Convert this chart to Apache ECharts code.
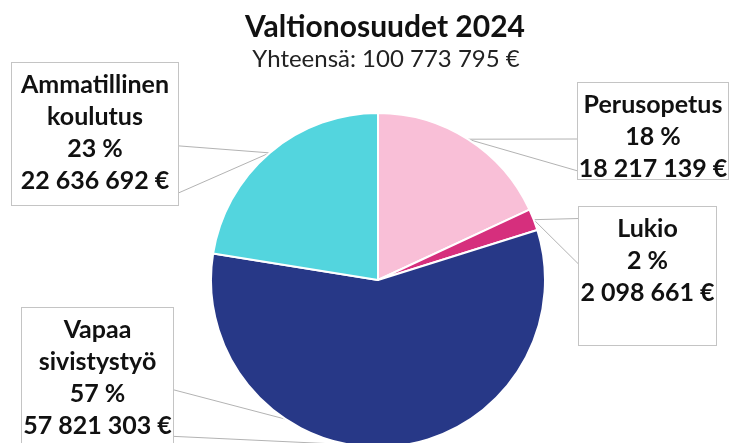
<!DOCTYPE html>
<html>
<head>
<meta charset="utf-8">
<script src="https://cdn.jsdelivr.net/npm/echarts@6/dist/echarts.min.js"></script>
<style>
  html, body { margin: 0; padding: 0; background: #fff; }
  #chart { width: 729px; height: 443px; }
</style>
</head>
<body>
<div id="chart"></div>
<script>
// data
const categories = ["Perusopetus", "Lukio", "Vapaa sivistystyö", "Ammatillinen koulutus"];
const values = [18217139, 2098661, 57821303, 22636692];
const colors = ["#F9BFD7", "#D62F7D", "#273887", "#53D5DE"];

// callout boxes (left, top, width, height)
const boxes = [
  { left: 578, top: 83, w: 150, h: 96 },
  { left: 579, top: 207, w: 137, h: 138 },
  { left: 22, top: 308, w: 151, h: 140 },
  { left: 12, top: 63, w: 166, h: 142 },
];

const total = values.reduce((a, b) => a + b, 0);

function fmt(v) {
  return String(v).replace(/\B(?=(\d{3})+(?!\d))/g, " ") + " €";
}

// wedge callout like in excel: base on the side facing the tip
function wedge(b, tip) {
  const cx = b.left + b.w / 2;
  const cy = b.top + b.h / 2;
  const dx = tip[0] - cx;
  const dy = tip[1] - cy;
  if (Math.abs(dx) / b.w > Math.abs(dy) / b.h) {
    const x = dx > 0 ? b.left + b.w : b.left;
    const f = dy > 0 ? [7 / 12, 11 / 12] : [1 / 12, 5 / 12];
    return [[x, b.top + b.h * f[0]], tip, [x, b.top + b.h * f[1]]];
  }
  const y = dy > 0 ? b.top + b.h : b.top;
  const f = dx > 0 ? [7 / 12, 11 / 12] : [1 / 12, 5 / 12];
  return [[b.left + b.w * f[0], y], tip, [b.left + b.w * f[1], y]];
}

const chart = echarts.init(document.getElementById("chart"));

const data = categories.map((name, i) => ({
  name: name,
  value: values[i],
  itemStyle: { color: colors[i] },
  label: { width: boxes[i].w, height: boxes[i].h - 6 },
}));

const option = {
  backgroundColor: "#fff",
  animation: false,
  title: [
    {
      text: "Valtionosuudet 2024",
      left: 380,
      top: 7,
      textAlign: "center",
      textStyle: { fontFamily: "Lato", fontWeight: "bold", fontSize: 30, color: "#111" },
    },
    {
      text: "Yhteensä: " + fmt(total),
      left: 381,
      top: 42,
      textAlign: "center",
      textStyle: { fontFamily: "Lato", fontWeight: "normal", fontSize: 24, color: "#222" },
    },
  ],
  series: [
    {
      type: "pie",
      center: [378, 280],
      radius: 167,
      startAngle: 90,
      clockwise: true,
      avoidLabelOverlap: false,
      percentPrecision: 0,
      itemStyle: { borderColor: "#fff", borderWidth: 2 },
      label: {
        show: true,
        position: "outside",
        formatter: (p) => p.name.replace(" ", "\n") + "\n" + p.percent + " %\n" + fmt(p.value),
        fontFamily: "Lato",
        fontWeight: "bold",
        fontSize: 25,
        lineHeight: 32,
        color: "#111",
        backgroundColor: "#fff",
        borderColor: "#C4C4C4",
        borderWidth: 1,
        padding: [6, 0, 0, 0],
        align: "center",
      },
      labelLine: {
        show: true,
        lineStyle: { color: "#B3B3B3", width: 1 },
      },
      labelLayout: function (params) {
        const b = boxes[params.dataIndex];
        const tip = params.labelLinePoints ? params.labelLinePoints[0] : [b.left, b.top];
        return {
          x: b.left + b.w / 2,
          y: b.top,
          align: "center",
          verticalAlign: "top",
          labelLinePoints: wedge(b, tip),
        };
      },
      emphasis: { disabled: true },
      data: data,
    },
  ],
};

chart.setOption(option);
</script>
</body>
</html>
